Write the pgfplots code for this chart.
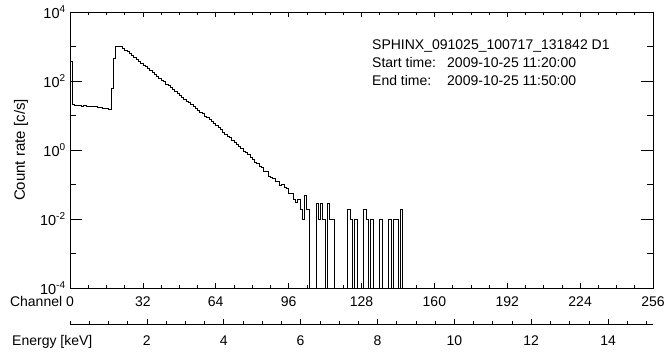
\documentclass[border=0pt]{standalone}
\usepackage{fontspec}
\setmainfont{Liberation Sans}
\usepackage{pgfplots}
\pgfplotsset{compat=1.18}
\newcommand\sups[1]{\raisebox{0.42em}{\fontsize{10}{11}\selectfont #1}}
\pgfplotstableread{
x y
0 363
1 20.5
2 19.8
3 19.4
4 19.2
5 19.0
6 19.1
7 18.8
8 18.7
9 18.9
10 18.5
11 18.0
12 17.6
13 17.1
14 16.6
15 16.2
16 15.8
17 15.5
18 61
19 455
20 1030
21 1040
22 1000
23 902
24 796
25 702
26 625
27 546
28 481
29 428
30 380
31 330
32 290
33 258
34 226
35 203
36 175
37 155
38 138
39 120
40 106
41 95
42 82.4
43 73.5
44 64.1
45 57.5
46 49.8
47 45
48 38.7
49 34.5
50 30.1
51 26.5
52 24.0
53 20.6
54 18.4
55 16.5
56 14.1
57 12.7
58 11.3
59 9.7
60 8.6
61 7.7
62 6.6
63 5.9
64 5.1
65 4.5
66 4.0
67 3.35
68 2.85
69 2.55
70 2.3
71 1.92
72 1.62
73 1.48
74 1.28
75 1.10
76 0.92
77 0.84
78 0.74
79 0.62
80 0.55
81 0.45
82 0.42
83 0.33
84 0.31
85 0.24
86 0.235
87 0.17
88 0.165
89 0.15
90 0.12
91 0.125
92 0.093
93 0.10
94 0.08
95 0.076
96 0.055
97 0.057
98 0.036
99 0.030
100 0.038
101 0.019
102 0.0095
103 0.05
104 0.019
105 1e-6
108 0.0285
109 0.0095
110 0.0285
111 0.0095
112 1e-6
113 0.0285
114 0.0095
115 0.0095
116 1e-6
122 0.019
123 0.0095
124 1e-6
125 0.0095
126 1e-6
129 0.019
130 0.0095
131 1e-6
132 0.0095
133 1e-6
136 0.0095
137 1e-6
140 0.0095
141 1e-6
142 0.0095
143 0.0095
144 1e-6
145 0.019
146 1e-6
256 1e-6
}\spectrum
\begin{document}
\fontsize{14}{17}\selectfont
\begin{tikzpicture}[x=1pt,y=1pt]
\useasboundingbox (0,0) rectangle (667,353);
\begin{axis}[
  at={(70pt,65pt)}, anchor=south west,
  scale only axis, width=583pt, height=276pt,
  xmin=0, xmax=256, ymin=1e-4, ymax=1e4,
  ymode=log,
  xtick={0,32,...,256},
  xticklabels={\llap{Channel }0,32,64,96,128,160,192,224,256},
  minor xtick={0,8,...,256},
  ytick={1e-4,1e-2,1,1e2,1e4},
  yticklabels={10\sups{-4},10\sups{-2},10\sups{0},10\sups{2},10\sups{4}},
  minor ytick={1e-3,1e-1,1e1,1e3},
  tick align=inside,
  xtick style={/pgfplots/major tick length=5.5pt,/pgfplots/minor tick length=2.8pt},
  ytick style={/pgfplots/major tick length=11.7pt,/pgfplots/minor tick length=5.8pt},
  tick style={black, line width=0.6pt},
  axis line style={line width=0.7pt},
  xticklabel style={font=\fontsize{14}{17}\selectfont, anchor=base, yshift=-19pt},
  yticklabel style={font=\fontsize{14.5}{17}\selectfont},
  clip=true,
]
\addplot[const plot mark left, black, line width=0.75pt] table[x=x,y=y] {\spectrum};
\end{axis}
\begin{axis}[
  at={(70pt,29pt)}, anchor=south west,
  scale only axis, width=583pt, height=20pt,
  xmin=0, xmax=15.17, ymin=0, ymax=1,
  axis x line*=bottom, axis y line=none,
  xtick={2,4,...,14},
  xticklabels={2,4,6,8,10,12,14},
  minor xtick={0,0.5,...,15},
  tick align=inside,
  major tick length=5pt, minor tick length=2.5pt,
  tick style={black, line width=0.6pt},
  axis line style={line width=0.7pt},
  xticklabel style={font=\fontsize{14}{17}\selectfont, anchor=base, yshift=-22pt},
]
\addplot[draw=none] coordinates {(0,0) (15,1)};
\end{axis}
\node[rotate=90, font=\fontsize{15}{18}\selectfont] at (21,203) {Count rate [c/s]};
\node[anchor=base west, inner sep=0] at (12,7) {Energy [keV]};
\begin{scope}[font=\fontsize{14}{17}\selectfont]
\node[anchor=base west, inner sep=0] at (372,303) {SPHINX\_091025\_100717\_131842 D1};
\node[anchor=base west, inner sep=0] at (372,285) {Start time:};
\node[anchor=base west, inner sep=0] at (447,285) {2009-10-25 11:20:00};
\node[anchor=base west, inner sep=0] at (372,267) {End time:};
\node[anchor=base west, inner sep=0] at (447,267) {2009-10-25 11:50:00};
\end{scope}
\end{tikzpicture}
\end{document}
